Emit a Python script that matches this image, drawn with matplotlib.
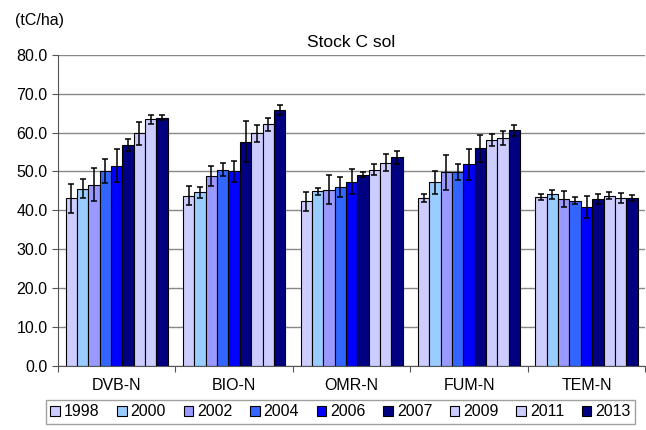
import matplotlib.pyplot as plt
import numpy as np

plt.rcParams['font.family'] = ['Liberation Sans', 'DejaVu Sans']

sites = ["DVB-N", "BIO-N", "OMR-N", "FUM-N", "TEM-N"]
years = ["1998", "2000", "2002", "2004", "2006", "2007", "2009", "2011", "2013"]
colors = ["#CCCCFF", "#99CCFF", "#9999FF", "#3366FF", "#0000FF",
          "#000080", "#CCCCFF", "#CCCCFF", "#000080"]

# valeurs par année (une liste par site, dans l'ordre des années)
dvb = [43.1, 45.6, 46.6, 50.1, 51.5, 56.8, 59.8, 63.4, 63.9]
bio = [43.8, 44.6, 48.9, 50.5, 50.0, 57.7, 59.8, 62.2, 65.8]
omr = [42.3, 44.9, 45.3, 46.1, 47.4, 49.2, 50.5, 52.2, 53.6]
fum = [43.2, 47.2, 49.8, 49.8, 51.8, 56.0, 58.1, 58.6, 60.6]
tem = [43.4, 44.1, 42.9, 42.5, 40.8, 42.8, 43.7, 43.1, 43.2]

dvb_err = [3.7, 2.5, 4.2, 3.0, 4.2, 1.5, 2.9, 1.2, 0.6]
bio_err = [2.4, 1.5, 2.6, 1.7, 2.8, 5.2, 2.3, 1.7, 1.3]
omr_err = [2.4, 0.9, 3.8, 2.6, 3.2, 0.6, 1.3, 2.2, 1.7]
fum_err = [1.0, 2.9, 4.5, 2.0, 4.0, 3.5, 1.5, 1.9, 1.5]
tem_err = [0.7, 1.1, 2.1, 0.8, 2.8, 1.3, 0.9, 1.3, 0.8]

vals = np.array([dvb, bio, omr, fum, tem])
errs = np.array([dvb_err, bio_err, omr_err, fum_err, tem_err])

fig = plt.figure(figsize=(6.46, 4.30), dpi=100)
ax = fig.add_axes([0.0898, 0.150, 0.909, 0.722])

n = len(years)
x = np.arange(len(sites))
w = 0.87 / n
for i in range(n):
    pos = x - 0.435 + w * (i + 0.5)
    ax.bar(pos, vals[:, i], width=w, color=colors[i], edgecolor="black",
           linewidth=0.8, label=years[i], zorder=2)
    ax.errorbar(pos, vals[:, i], yerr=errs[:, i], fmt="none", ecolor="black",
                elinewidth=1.1, capsize=2.5, capthick=1.1, zorder=3)

ax.set_xlim(-0.5, len(sites) - 0.5)
ax.set_ylim(0, 80)
ax.set_yticks(np.arange(0, 81, 10))
ax.set_yticklabels([f"{v:.1f}" for v in np.arange(0, 81, 10)], fontsize=11.5)
ax.yaxis.grid(True, color="#888888", linewidth=1)
ax.set_axisbelow(True)

ax.set_xticks(np.arange(-0.5, len(sites), 1.0))
ax.set_xticklabels([])
ax.set_xticks(x, minor=True)
ax.set_xticklabels(sites, minor=True, fontsize=11.5)
ax.tick_params(axis="x", which="minor", length=0, pad=9)
ax.tick_params(axis="x", which="major", length=4, color="#555555")
ax.tick_params(axis="y", length=4, color="#555555")

for s in ["top", "right"]:
    ax.spines[s].set_visible(False)
ax.spines["left"].set_color("#555555")
ax.spines["bottom"].set_color("#555555")

ax.set_title("Stock C sol", fontsize=12.5, pad=6)
fig.text(0.023, 0.942, "(tC/ha)", fontsize=11.5)

leg = fig.legend(loc="lower center", bbox_to_anchor=(0.527, -0.005), ncol=9,
                 fontsize=11.5, frameon=True, fancybox=False,
                 handlelength=0.6, handleheight=0.6, handletextpad=0.25,
                 columnspacing=1.1, borderpad=0.3)
leg.get_frame().set_edgecolor("#888888")
leg.get_frame().set_linewidth(1.0)

fig.savefig("out.png", dpi=100)
